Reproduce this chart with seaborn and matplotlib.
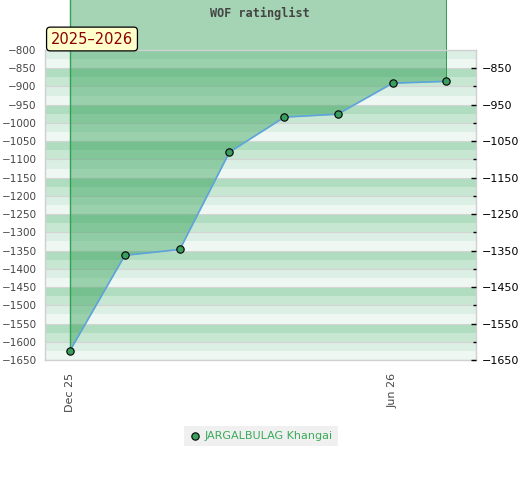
import numpy as np
import pandas as pd
import matplotlib
matplotlib.use("Agg")
import matplotlib.pyplot as plt
import seaborn as sns

sns.set_style("white")
plt.rcParams['font.family'] = ['DejaVu Sans']

# rating history, one value per month
months = pd.to_datetime(["2025-12-01", "2026-01-01", "2026-02-01", "2026-03-01",
                         "2026-04-01", "2026-05-01", "2026-06-01", "2026-07-01"])
ratings = [-1625, -1363, -1347, -1080, -984, -976, -891, -886]
player = "JARGALBULAG Khangai"
season = "2025\u20132026"
title = "WOF ratinglist"
tick_dates = pd.to_datetime(["2025-12-01", "2026-06-01"])
tick_labels = ["Dec 25", "Jun 26"]

df = pd.DataFrame({"month": months, "rating": ratings, "player": player})

fig = plt.figure(figsize=(5.2, 4.8), dpi=100)
ax = fig.add_axes([45 / 520, 0.25, 431 / 520, 310 / 480])

ymin, ymax = -1650, -800
ax.set_ylim(ymin, ymax)
ax.set_xlim(pd.Timestamp("2025-11-17"), pd.Timestamp("2026-07-18"))

# striped background, 4 shades repeating every 100 points
band_cols = ['#b0ddc0', '#c7e7d2', '#dcefe4', '#eef7f1']
for i, top in enumerate(np.arange(-750, ymin, -25)):
    ax.axhspan(top - 25, top, color=band_cols[i % 4], lw=0, zorder=0)
for y in np.arange(-800, ymin - 1, -50):
    ax.axhline(y, color='#d4d4d4', lw=0.8, zorder=0.5)

# area above the rating line, running up to the top of the picture
fill_col = (38 / 255, 154 / 255, 77 / 255)
ax.fill_between(df["month"], df["rating"], -560, color=fill_col, alpha=0.42,
                lw=0, zorder=1, clip_on=False)
ax.vlines([months[0]], ratings[0], -560, color='#2fa253', lw=1.0, zorder=1.2, clip_on=False)
ax.vlines([months[-1]], ratings[-1], -560, color='#2f9a50', lw=0.7, zorder=1.2, clip_on=False)

sns.lineplot(data=df, x="month", y="rating", color='#5ea3de', lw=1.2, ax=ax,
             zorder=3, legend=False)
sns.scatterplot(data=df, x="month", y="rating", color='#3a9e5f', edgecolor='black',
                linewidth=0.8, s=28, ax=ax, zorder=4, label=player, clip_on=False)
ax.get_legend().remove()

for sp in ax.spines.values():
    sp.set_color('#d0d0d0')
    sp.set_linewidth(1.0)
    sp.set_zorder(2.5)

ax.set_xlabel("")
ax.set_ylabel("")
ax.set_yticks(np.arange(-800, ymin - 1, -50))
ax.tick_params(axis='y', length=0, pad=6, labelsize=7.5, labelcolor='#444444')
ax.set_xticks(tick_dates)
ax.set_xticklabels(tick_labels, rotation=90, va='top', ha='center')
ax.tick_params(axis='x', length=0, pad=9, labelsize=8, labelcolor='#444444')

# right axis: labels every 100, small marks in between
ax2 = ax.twinx()
ax2.set_ylim(ymin, ymax)
ax2.set_yticks(np.arange(-850, ymin - 1, -100))
ax2.set_yticks(np.arange(-900, ymin - 1, -100), minor=True)
ax2.tick_params(axis='y', which='major', direction='in', length=3.6, width=1,
                color='black', pad=4, labelsize=8, labelcolor='black')
ax2.tick_params(axis='y', which='minor', direction='in', length=2.2, width=1, color='black')
for sp in ax2.spines.values():
    sp.set_visible(False)

fig.text(260 / 520, 1 - 13 / 480, title, ha='center', va='center',
         family='DejaVu Sans Mono', fontweight='bold', fontsize=8.5, color='#444444')
fig.text(92 / 520, 1 - 39 / 480, season, ha='center', va='center', fontsize=10.5,
         color='#8b0000', zorder=10,
         bbox=dict(boxstyle='round,pad=0.3,rounding_size=0.25', facecolor='#ffffcc',
                   edgecolor='black', linewidth=0.9))

handles, labels = ax.get_legend_handles_labels()
fig.legend(handles, labels, loc='center', bbox_to_anchor=(261 / 520, 1 - 436 / 480),
           frameon=True, facecolor='#f0f0f0', edgecolor='none', fancybox=False,
           framealpha=1, fontsize=8, labelcolor='#3aaa5a', handletextpad=0.4,
           handlelength=1.0, borderpad=0.45)

fig.savefig("out.png", dpi=100)
